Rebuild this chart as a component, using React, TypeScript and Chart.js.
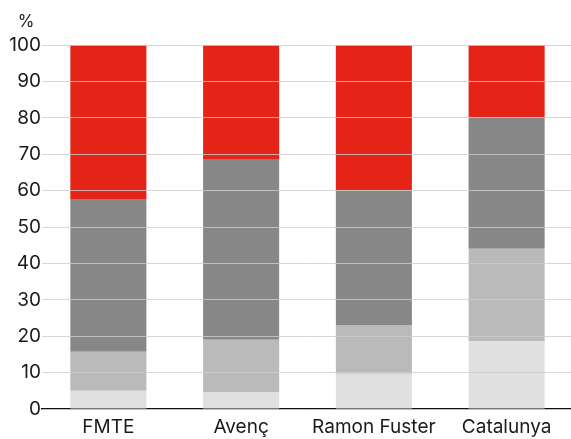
import React, { useEffect, useRef } from "react";
import { Chart, registerables } from "chart.js";

Chart.register(...registerables);

const categories = ["FMTE", "Avenç", "Ramon Fuster", "Catalunya"];
const seriesLight = [5, 4.7, 9.7, 18.7];
const seriesMid = [10.7, 14.3, 13.4, 25.3];
const seriesDark = [42, 49.5, 36.9, 36.2];
const seriesRed = [42.3, 31.5, 40, 19.8];
const yTicks = [0, 10, 20, 30, 40, 50, 60, 70, 80, 90, 100];
const unitLabel = "%";

const FONT = "Inter, 'Noto Sans', 'DejaVu Sans', sans-serif";

export default function App() {
  const ref = useRef<HTMLCanvasElement | null>(null);

  useEffect(() => {
    const canvas = ref.current;
    if (!canvas) return;

    const unitPlugin = {
      id: "unitLabel",
      afterDraw(chart: any) {
        const { ctx, chartArea } = chart;
        ctx.save();
        ctx.fillStyle = "#1a1a1a";
        ctx.font = `17px ${FONT}`;
        ctx.textAlign = "center";
        ctx.textBaseline = "middle";
        ctx.fillText(unitLabel, chartArea.left - 16, chartArea.top - 23);
        ctx.restore();
      },
    };

    const chart = new Chart(canvas, {
      type: "bar",
      data: {
        labels: categories,
        datasets: [
          { label: "a", data: seriesLight, backgroundColor: "#e0e0e0" },
          { label: "b", data: seriesMid, backgroundColor: "#bababa" },
          { label: "c", data: seriesDark, backgroundColor: "#878787" },
          { label: "d", data: seriesRed, backgroundColor: "#e32416" },
        ],
      },
      options: {
        responsive: false,
        animation: false,
        devicePixelRatio: 1,
        layout: { padding: { top: 45, left: 0, right: 0, bottom: 0 } },
        plugins: {
          legend: { display: false },
          tooltip: { enabled: false },
        },
        datasets: {
          bar: { barPercentage: 0.573, categoryPercentage: 1, borderWidth: 0 },
        },
        scales: {
          x: {
            stacked: true,
            grid: { display: false, drawTicks: false },
            border: { display: true, color: "#111111", width: 1.5 },
            ticks: {
              color: "#1a1a1a",
              font: { family: FONT, size: 19 },
              padding: 7,
              maxRotation: 0,
              autoSkip: false,
            },
            afterFit: (scale: any) => {
              scale.height = 30;
            },
          },
          y: {
            stacked: true,
            min: 0,
            max: 100,
            afterBuildTicks: (scale: any) => {
              scale.ticks = yTicks.map((v) => ({ value: v }));
            },
            grid: {
              color: "rgba(205,205,205,0.8)",
              lineWidth: 1,
              drawTicks: false,
              z: 1,
            },
            border: { display: false },
            ticks: {
              color: "#1a1a1a",
              font: { family: FONT, size: 19 },
              padding: 1,
            },
            afterFit: (scale: any) => {
              scale.width = 42;
            },
          },
        },
      },
      plugins: [unitPlugin],
    });

    return () => chart.destroy();
  }, []);

  return (
    <div style={{ position: "absolute", left: 0, top: 0, width: 571, height: 439, overflow: "hidden" }}>
      <canvas ref={ref} width={573} height={439} style={{ display: "block" }} />
    </div>
  );
}
